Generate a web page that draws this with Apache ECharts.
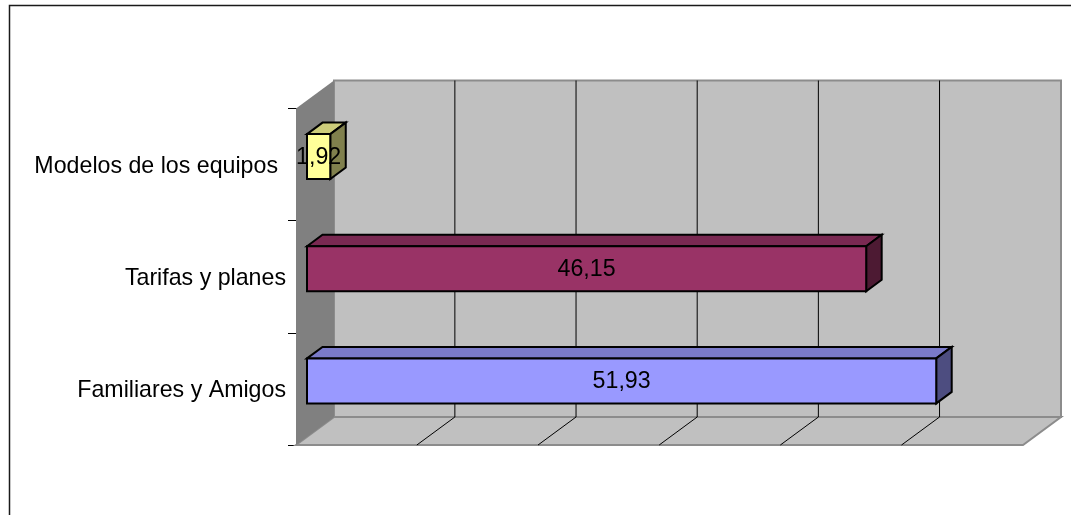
<!DOCTYPE html>
<html><head><meta charset="utf-8">
<style>html,body{margin:0;padding:0;background:#fff}#c{width:1071px;height:515px}</style>
<script src="https://cdn.jsdelivr.net/npm/echarts@6/dist/echarts.min.js"></script>
</head><body><div id="c"></div>
<script>
const categories = ['Familiares y Amigos', 'Tarifas y planes', 'Modelos de los equipos'];
const values = [51.93, 46.15, 1.92];
const valueLabels = ['51,93', '46,15', '1,92'];
const faceColors = ['#9999FF', '#993366', '#FFFF99'];
const topColors = ['#7A7AC9', '#7A2952', '#CCCC7A'];
const sideColors = ['#4D4D80', '#4D1A33', '#80804D'];
const gridTicks = [10, 20, 30, 40, 50];

const FONT = '"Liberation Sans", Arial, sans-serif';
const FS = 23.2;
const DX = 38, DY = 28;       // wall depth
const BX = 15.5, BY = 11.5;   // bar depth
const OX = 11, OY = 8;        // bar offset from front floor edge
const BAR_H = 45;

const chart = echarts.init(document.getElementById('c'), null, {renderer: 'canvas'});

function poly(points, fill, stroke, lw) {
  return {type: 'polygon', shape: {points}, style: {fill, stroke: stroke || null, lineWidth: lw || 0}};
}
function line(x1, y1, x2, y2, stroke, lw) {
  return {type: 'line', shape: {x1, y1, x2, y2}, style: {stroke, lineWidth: lw}};
}

function renderWalls(params, api) {
  const g = params.coordSys;
  const L = g.x, R = g.x + g.width, T = g.y, B = g.y + g.height;
  const kids = [
    poly([[L + DX, T - DY], [R + DX, T - DY], [R + DX, B - DY], [L + DX, B - DY]], '#C0C0C0', '#8C8C8C', 2),
    poly([[L, B], [L + DX, B - DY], [R + DX, B - DY], [R, B]], '#C0C0C0', '#8C8C8C', 2),
    poly([[L, T], [L + DX, T - DY], [L + DX, B - DY], [L, B]], '#808080', null, 0)
  ];
  return {type: 'group', children: kids};
}
function renderGrid(params, api) {
  const v = api.value(0);
  const p = api.coord([v, 0]);
  const g = params.coordSys;
  const B = g.y + g.height, T = g.y;
  return {type: 'group', children: [
    line(p[0] + DX - .3, T - DY, p[0] + DX - .3, B - DY, '#000', 1),
    line(p[0] + DX - .3, B - DY, p[0] - .3, B, '#000', 1)
  ]};
}
function renderBar(params, api) {
  const i = params.dataIndex;
  const p0 = api.coord([0, i]);
  const p1 = api.coord([api.value(0), i]);
  const x0 = p0[0] + OX, x1 = p1[0] + OX;
  const t = p0[1] - OY - BAR_H / 2, b = t + BAR_H;
  const s = {stroke: '#000', lw: 2};
  return {type: 'group', children: [
    poly([[x0, t], [x0 + BX, t - BY], [x1 + BX, t - BY], [x1, t]], topColors[i], s.stroke, s.lw),
    poly([[x1, t], [x1 + BX, t - BY], [x1 + BX, b - BY], [x1, b]], sideColors[i], s.stroke, s.lw),
    poly([[x0, t], [x1, t], [x1, b], [x0, b]], faceColors[i], s.stroke, s.lw),
    {type: 'text', z2: 10, style: {x: (x0 + x1) / 2, y: (t + b) / 2 + 1, text: valueLabels[i],
      fill: '#000', font: FS + 'px ' + FONT, align: 'center', verticalAlign: 'middle'}}
  ]};
}

chart.setOption({
  animation: false,
  backgroundColor: '#fff',
  graphic: [{type: 'polyline', silent: true, shape: {points: [[9.5, 520], [9.5, 5.5], [1080, 5.5]]},
    style: {stroke: '#1a1a1a', fill: null, lineWidth: 1.5}}],
  grid: {left: 296, top: 108.5, width: 727, height: 336.5, containLabel: false},
  xAxis: {type: 'value', min: 0, max: 60, interval: 10, show: false},
  yAxis: {type: 'category', data: categories,
    axisLine: {show: true, lineStyle: {color: '#000', width: 1}},
    axisTick: {show: true, length: 8, lineStyle: {color: '#000', width: 1}},
    splitLine: {show: false},
    axisLabel: {
      margin: 10, interval: 0,
      formatter: (v) => v === categories[2] ? '{b|' + v + '}' : '{a|' + v + '}',
      rich: {
        a: {fontFamily: FONT, fontSize: FS, color: '#000', padding: [4, 0, 0, 0]},
        b: {fontFamily: FONT, fontSize: FS, color: '#000', padding: [4, 8, 0, 0]}
      }
    }
  },
  series: [
    {type: 'custom', coordinateSystem: 'cartesian2d', z: 1, silent: true, data: [[0, 0]], renderItem: renderWalls, clip: false},
    {type: 'custom', coordinateSystem: 'cartesian2d', z: 2, silent: true, data: gridTicks.map(v => [v, 0]), renderItem: renderGrid, encode: {x: 0, y: 1}, clip: false},
    {type: 'custom', coordinateSystem: 'cartesian2d', z: 3, silent: true, data: values.map((v, i) => [v, i]), renderItem: renderBar, encode: {x: 0, y: 1}, clip: false}
  ]
});
</script></body></html>
